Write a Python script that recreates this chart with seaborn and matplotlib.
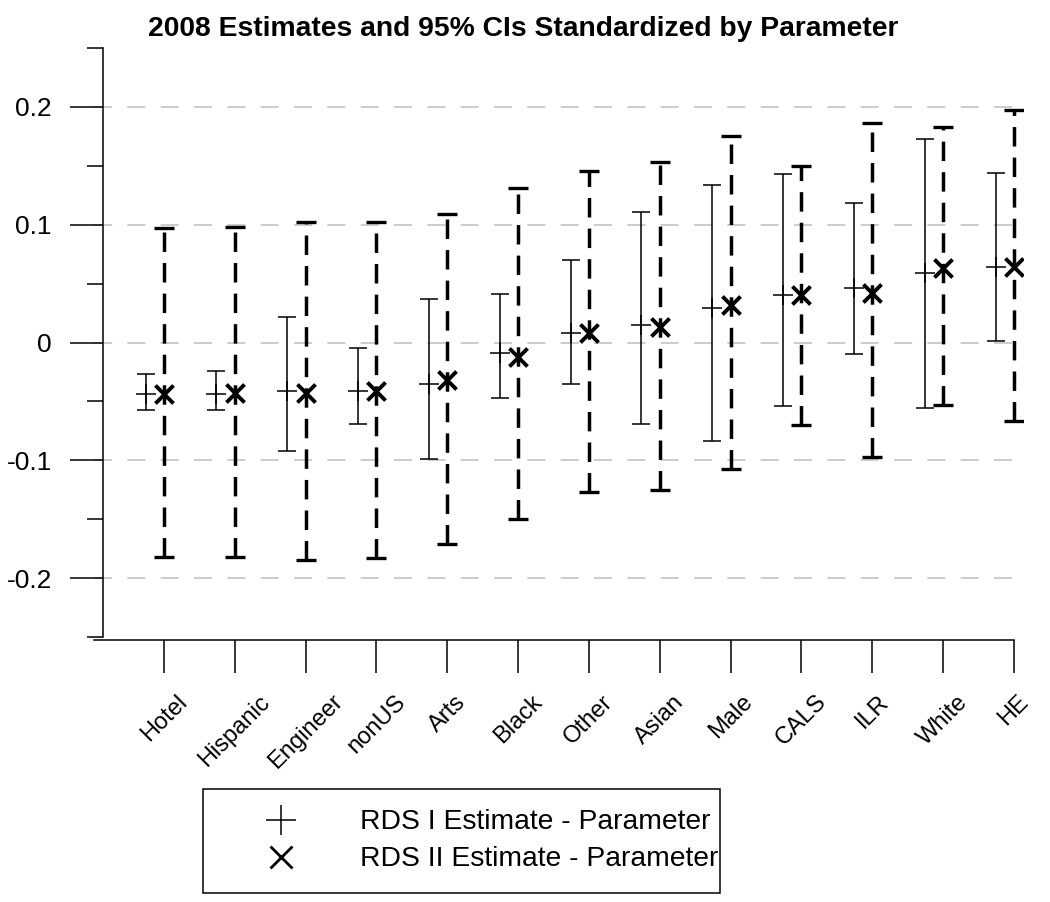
import numpy as np
import matplotlib
matplotlib.use("Agg")
import matplotlib.pyplot as plt
from matplotlib.lines import Line2D
import seaborn as sns

# categories in plotting order (sorted by estimate)
categories = ["Hotel", "Hispanic", "Engineer", "nonUS", "Arts", "Black", "Other",
              "Asian", "Male", "CALS", "ILR", "White", "HE"]

# RDS I estimate - parameter, with 95% CI bounds
rds1_est = [-0.044, -0.044, -0.041, -0.041, -0.035, -0.009, 0.008, 0.015, 0.029, 0.040, 0.046, 0.059, 0.064]
rds1_lo = [-0.057, -0.057, -0.092, -0.069, -0.099, -0.047, -0.035, -0.069, -0.084, -0.054, -0.010, -0.056, 0.001]
rds1_hi = [-0.027, -0.024, 0.022, -0.005, 0.037, 0.041, 0.070, 0.111, 0.134, 0.143, 0.118, 0.173, 0.144]

# RDS II estimate - parameter, with 95% CI bounds
rds2_est = [-0.044, -0.043, -0.043, -0.041, -0.032, -0.012, 0.008, 0.013, 0.032, 0.040, 0.042, 0.063, 0.064]
rds2_lo = [-0.182, -0.182, -0.185, -0.183, -0.171, -0.150, -0.127, -0.125, -0.107, -0.070, -0.097, -0.053, -0.067]
rds2_hi = [0.097, 0.098, 0.102, 0.102, 0.109, 0.131, 0.146, 0.153, 0.175, 0.150, 0.186, 0.183, 0.197]

yticks = [-0.2, -0.1, 0, 0.1, 0.2]
ytick_labels = ["-0.2", "-0.1", "0", "0.1", "0.2"]
yminor = [-0.25, -0.15, -0.05, 0.05, 0.15, 0.25]

title = "2008 Estimates and 95% CIs Standardized by Parameter"
legend_labels = ["RDS I Estimate - Parameter", "RDS II Estimate - Parameter"]

sns.set_theme(style="white")
plt.rcParams["font.family"] = ["Liberation Sans", "DejaVu Sans"]
plt.rcParams["lines.scale_dashes"] = False
plt.rcParams["axes.unicode_minus"] = False
plt.rcParams["text.color"] = "black"
plt.rcParams["xtick.color"] = "black"
plt.rcParams["ytick.color"] = "black"

fig = plt.figure(figsize=(10.5, 9.02), dpi=100)
ax = fig.add_axes([94 / 1050, 1 - 637 / 902, (1023 - 94) / 1050, (637 - 48) / 902])

pos = np.arange(len(categories))
x1 = pos - 0.26
x2 = pos

# dashed gray reference lines
ax.yaxis.grid(True, color="#c8c8c8", linestyle=(0, (13, 11)), linewidth=1.3)
ax.set_axisbelow(True)

# RDS I: thin solid intervals
ax.errorbar(x1, rds1_est,
            yerr=[np.subtract(rds1_est, rds1_lo), np.subtract(rds1_hi, rds1_est)],
            fmt="none", ecolor="black", elinewidth=1.1, capsize=6.5, capthick=1.1, zorder=3)
# RDS II: thick dashed intervals
e2 = ax.errorbar(x2, rds2_est,
                 yerr=[np.subtract(rds2_est, rds2_lo), np.subtract(rds2_hi, rds2_est)],
                 fmt="none", ecolor="black", elinewidth=2.5, capsize=7, capthick=2.4, zorder=3)
e2[2][0].set_linestyle((0, (14, 8)))

sns.scatterplot(x=x1, y=rds1_est, marker="+", s=14 ** 2, color="black",
                linewidth=1.1, ax=ax, zorder=4)
sns.scatterplot(x=x2, y=rds2_est, marker="x", s=13 ** 2, color="black",
                linewidth=2.8, ax=ax, zorder=4)

ax.set_xlim(-0.988, 12.128)
ax.set_ylim(-0.25, 0.25)
ax.set_xticks(pos, categories)
ax.set_yticks(yticks, ytick_labels)
ax.set_yticks(yminor, minor=True)

ax.tick_params(axis="y", which="major", length=23.8, width=1.1, pad=13,
               labelsize=19, direction="out", left=True, color="black")
ax.tick_params(axis="y", which="minor", length=11.5, width=1.1,
               direction="out", left=True, color="black")
ax.tick_params(axis="x", length=23.8, width=1.1, pad=13, labelsize=17,
               direction="out", bottom=True, color="black")

for side in ["top", "right"]:
    ax.spines[side].set_visible(False)
ax.spines["left"].set_position(("outward", -6.5))
ax.spines["bottom"].set_position(("outward", 2))
ax.spines["bottom"].set_bounds(-0.988, 12)
for side in ["left", "bottom"]:
    ax.spines[side].set_color("black")
    ax.spines[side].set_linewidth(1.1)

# rotated labels, their bounding box centred under the tick
for lab in ax.get_xticklabels():
    lab.set_rotation(45)
    lab.set_ha("center")
    lab.set_va("top")

ax.set_xlabel("")
ax.set_ylabel("")

fig.text(0.498, 1 - 16 / 902, title, ha="center", va="top",
         fontsize=20.3, fontweight="bold")

handles = [Line2D([], [], ls="none", marker="+", ms=21.5, mew=1.1, color="black"),
           Line2D([], [], ls="none", marker="x", ms=16, mew=2.0, color="black")]
leg = fig.legend(handles, legend_labels, loc="lower left",
                 bbox_to_anchor=(203 / 1050, 9 / 902, 517 / 1050, 0), mode="expand",
                 borderaxespad=0, fontsize=20.3, frameon=True, fancybox=False,
                 edgecolor="black", framealpha=1, borderpad=0.73, handlelength=4.08,
                 handletextpad=0.76, labelspacing=0.39)
leg.get_frame().set_linewidth(1.1)

fig.savefig("out.png", dpi=100)
